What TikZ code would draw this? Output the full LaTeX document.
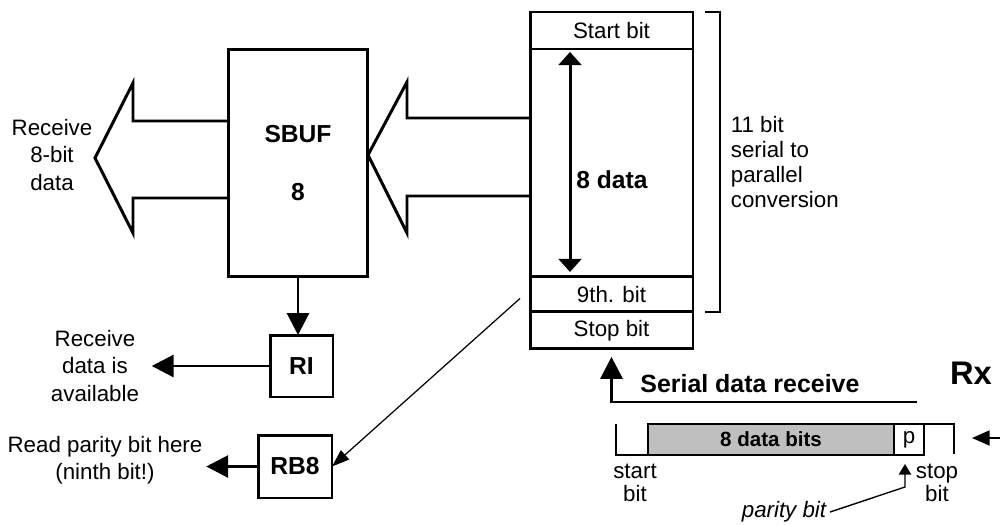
\documentclass[tikz,border=0pt]{standalone}
\usepackage{fontspec}
\setmainfont{Liberation Sans}
\usetikzlibrary{positioning, arrows.meta, calc}

\begin{document}
\begin{tikzpicture}[x=0.02cm, y=-0.02cm,
  reg/.style={draw, line width=1.7pt, inner sep=0pt, outer sep=0pt, minimum width=3.26cm, font=\fontsize{12.7}{15.5}\selectfont},
  box/.style={draw, line width=1.7pt, inner sep=0pt, outer sep=0pt, align=center, font=\fontsize{14}{16.8}\selectfont\bfseries},
  txt/.style={align=center, inner sep=2pt, font=\fontsize{12.7}{15.5}\selectfont},
  bold/.style={inner sep=2pt, font=\fontsize{14}{16.8}\selectfont\bfseries},
  bus/.style={line width=1.7pt},
  arr/.style={line width=1.7pt, -{Triangle[length=12.5pt,width=12.5pt]}},
  dblarr/.style={line width=1.7pt, {Triangle[length=7.5pt,width=13pt]}-{Triangle[length=7.5pt,width=13pt]}},
  thinarr/.style={line width=0.7pt, -{Triangle[length=10pt,width=7pt]}},
  wire/.style={line width=0.8pt}]
  \useasboundingbox (0,0) rectangle (1000,524);

  % receive register, 11 bits
  \node[reg, minimum height=0.74cm] (start) at (611.5,30.5) {Start bit};
  \node[reg, minimum height=4.56cm, below=0pt of start] (data) {};
  \node[reg, minimum height=0.7cm, below=0pt of data] (ninth) {9th. bit};
  \node[reg, minimum height=0.74cm, below=0pt of ninth] (stop) {Stop bit};
  \node[bold] (datalbl) at (612,180) {8 data};
  \draw[dblarr] ($(data.north)+(-41.5,3)$) -- ($(data.south)+(-41.5,-5)$);
  \draw[line width=0.7pt] ($(start.north east)+(12,0)$) -- ++(15,0) |- ($(ninth.south east)+(12,0)$);
  \node[txt, align=left, anchor=west, font=\fontsize{12.7}{14.2}\selectfont] (convlbl) at (727,162) {11 bit\\serial to\\parallel\\conversion};

  % SBUF and flags
  \node[box, minimum width=2.8cm, minimum height=4.56cm] (sbuf) at (298,163) {SBUF\\[16.7pt]8};
  \node[box, minimum width=1.26cm, minimum height=1.24cm] (ri) at (301.5,366) {RI};
  \node[box, minimum width=1.48cm, minimum height=1.26cm] (rb8) at (295,466.5) {RB8};

  % wide data paths
  \draw[bus] (sbuf.west |- 0,121) -- (133,121) -- (133,83) -- (95,158) -- (133,233) -- (133,198) -- (sbuf.west |- 0,198);
  \draw[bus] (data.west |- 0,118) -- (407,118) -- (407,82) -- (368,155) -- (407,233) -- (407,196) -- (data.west |- 0,196);
  \node[txt] (outlbl) at (52,155) {Receive\\8-bit\\data};

  \draw[arr] (sbuf.south) -- (sbuf.south |- ri.north);
  \node[txt] (availlbl) at (95,366) {Receive\\data is\\available};
  \draw[arr, shorten >=5pt] (ri.west) -- (availlbl.east);
  \node[txt] (paritylbl) at (105,460) {Read parity bit here\\(ninth bit!)};
  \draw[arr] (rb8.west) -- (rb8.west -| paritylbl.east);
  \draw[thinarr] ($(ninth.west)+(-10,4)$) -- (rb8.east);

  % serial input
  \coordinate (rxend) at (917,402);
  \draw[arr, shorten >=4.5pt] (rxend) -| (stop.south);
  \node[inner sep=2pt, anchor=west, font=\fontsize{14.2}{17}\selectfont\bfseries] (serlbl) at (636.5,384) {Serial data receive};
  \node[font=\fontsize{18.6}{22}\selectfont\bfseries] (rx) at (971,373) {Rx};

  % frame on the line
  \node[draw, wire, fill=gray!50, inner sep=0pt, outer sep=0pt, minimum width=4.92cm, minimum height=0.62cm, font=\fontsize{11.7}{14}\selectfont\bfseries] (dbits) at (771,439.5) {8 data bits};
  \node[draw, wire, inner sep=0pt, outer sep=0pt, minimum width=0.6cm, minimum height=0.62cm, right=0pt of dbits, font=\fontsize{12.7}{15.5}\selectfont] (pbit) {p};
  \draw[wire] ($(dbits.north west)+(-32,0)$) |- (dbits.south west);
  \draw[wire] (pbit.north east) -- ++(30,0) -- ++(0,30);
  \node[txt, font=\fontsize{12.7}{13.2}\selectfont] (startlbl) at (635,483) {start\\bit};
  \node[txt, font=\fontsize{12.7}{13.2}\selectfont] (stoplbl) at (937,483) {stop\\bit};
  \coordinate (rxin) at (1000,438);
  \coordinate (rxtip) at (972,438);
  \draw[line width=1.1pt, -{Triangle[length=10pt,width=8.5pt]}] (rxin) -- (rxtip);
  \node[txt, font=\fontsize{12.7}{15.5}\selectfont\itshape] (parlbl) at (784,512) {parity bit};
  \draw[wire, -{Triangle[length=6pt,width=7pt]}] (parlbl.east) -- ($(pbit.south)+(-4,32)$) -- ($(pbit.south)+(-4,9)$);
\end{tikzpicture}
\end{document}
